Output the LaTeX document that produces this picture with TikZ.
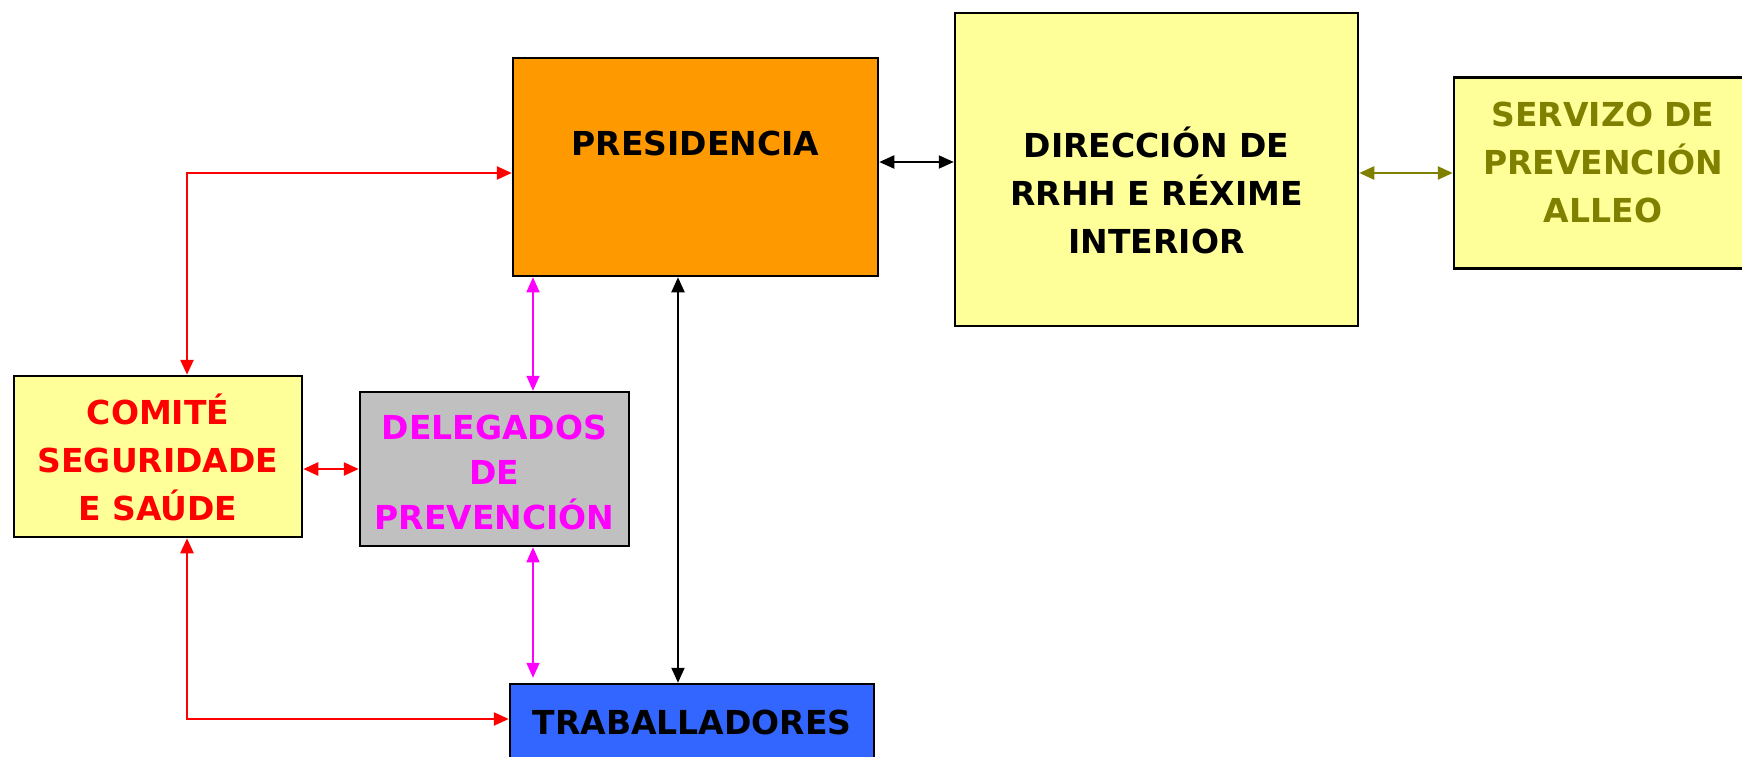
\documentclass[tikz,border=0pt]{standalone}
\usepackage{fontspec}
\setmainfont{DejaVu Sans}
\usetikzlibrary{arrows.meta}
\definecolor{boxorange}{HTML}{FF9900}
\definecolor{boxyellow}{HTML}{FFFF99}
\definecolor{boxgray}{HTML}{C0C0C0}
\definecolor{boxblue}{HTML}{3366FF}
\definecolor{olivetext}{HTML}{808000}
\definecolor{magentaline}{HTML}{FF00FF}
\begin{document}
\begin{tikzpicture}[x=1pt,y=-1pt,
  box/.style={draw=black, line width=2.5pt, rectangle, inner sep=0pt, align=center,
    font=\bfseries\fontsize{33}{48}\selectfont},
  biarrow/.style={{Triangle[length=15pt,width=13pt]}-{Triangle[length=15pt,width=13pt]}},
  redline/.style={biarrow, draw=red, line width=2.5pt},
  magline/.style={biarrow, draw=magentaline, line width=1.6pt},
  blackline/.style={biarrow, draw=black, line width=2pt},
  oliveline/.style={biarrow, draw=olivetext, line width=2.5pt}
]
\useasboundingbox (0,0) rectangle (1742,757);
\clip (0,0) rectangle (1742,757);

\node[box, fill=boxorange, minimum width=365pt, minimum height=218pt,
  text height=24pt, text depth=46pt] (pres) at (695.5,167) {PRESIDENCIA};
\node[box, fill=boxyellow, minimum width=403pt, minimum height=313pt,
  text height=216pt, text depth=48pt] (dir) at (1156.5,169.5)
  {DIRECCIÓN DE\\RRHH E RÉXIME\\INTERIOR};
\node[box, fill=boxyellow, text=olivetext, minimum width=298pt, minimum height=191pt,
  text height=120pt, text depth=22pt] (serv) at (1603,173)
  {SERVIZO DE\\PREVENCIÓN\\ALLEO};
\node[box, fill=boxyellow, text=red, minimum width=288pt, minimum height=161pt,
  text height=127pt, text depth=0pt] (comite) at (158,456.5)
  {COMITÉ\\SEGURIDADE\\E SAÚDE};
\node[box, fill=boxgray, text=magentaline, minimum width=269pt, minimum height=154pt,
  font=\bfseries\fontsize{33}{45}\selectfont,
  text height=120pt, text depth=0pt] (deleg) at (494.5,469)
  {DELEGADOS\\DE\\PREVENCIÓN};
\node[box, fill=boxblue, minimum width=364pt, minimum height=76pt] (trab) at (692,722)
  {TRABALLADORES};

\coordinate (rx) at (187,0);
\coordinate (mx) at (533,0);
\coordinate (bx) at (678,0);
\coordinate (ay) at (0,162);
\coordinate (ry) at (0,173);
\coordinate (ty) at (0,719);

\draw[redline] (comite.north -| rx) |- (pres.west |- ry);
\draw[redline] (comite.south -| rx) |- (trab.west |- ty);
\draw[redline] (deleg.west -| comite.east) -- (deleg.west);
\draw[magline] (pres.south -| mx) -- (deleg.north -| mx);
\draw[magline, shorten >=5pt] (deleg.south -| mx) -- (trab.north -| mx);
\draw[blackline] (pres.south -| bx) -- (trab.north -| bx);
\draw[blackline] (pres.east |- ay) -- (dir.west |- ay);
\draw[oliveline] (serv.west -| dir.east) -- (serv.west);
\end{tikzpicture}
\end{document}
